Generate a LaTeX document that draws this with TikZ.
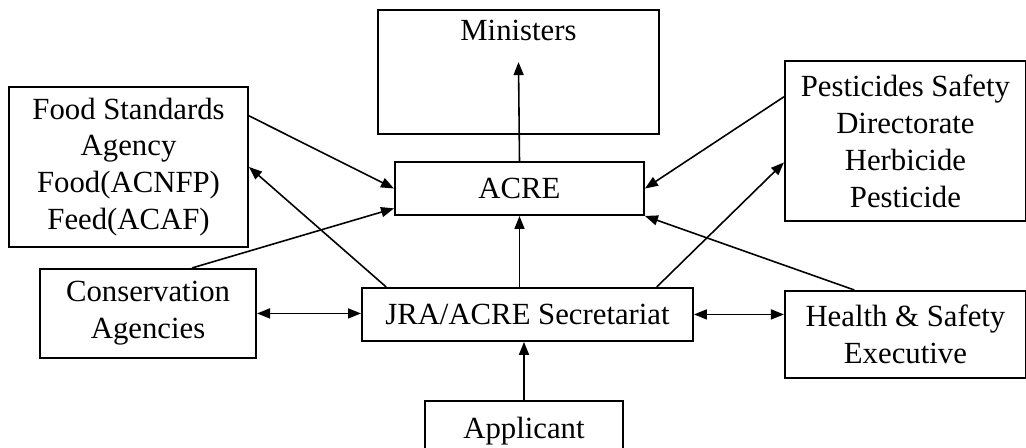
\documentclass[tikz,border=0pt]{standalone}
\usepackage{fontspec}
\setmainfont{Liberation Serif}
\usetikzlibrary{positioning,arrows.meta}
\tikzset{
  txt/.style={font=\fontsize{17.5}{21}\selectfont},
  box/.style={draw, line width=1.1pt, align=center, txt, inner sep=2pt},
  arr/.style={-{Triangle[length=0.26cm,width=0.2cm]}, line width=0.9pt},
  both/.style={{Triangle[length=0.26cm,width=0.2cm]}-{Triangle[length=0.26cm,width=0.2cm]}, line width=0.9pt}
}
\begin{document}
\begin{tikzpicture}
        \path[use as bounding box, clip] (-10.39,3.77) rectangle (10.13,-5.17);
        \node[box, minimum width=4.98cm, minimum height=1.06cm] (acre) at (0,0) {ACRE};
        \node[box, minimum width=5.62cm, minimum height=2.48cm, above=0.52cm of acre, xshift=-0.02cm] (min) {};
        \node[txt, anchor=base] (mint) at ([yshift=-0.62cm]min.north) {Ministers};
        \coordinate[below=1.06cm of min.north] (mintip);
        \node[box, minimum width=6.62cm, minimum height=1.06cm, below=1.42cm of acre, xshift=0.16cm] (jra) {JRA/ACRE Secretariat};
        \node[box, minimum width=3.96cm, minimum height=1.2cm, below=1.16cm of jra, xshift=-0.07cm] (app) {Applicant};
        \node[box, minimum width=4.78cm, minimum height=3.2cm, left=2.9cm of acre, yshift=0.43cm] (fsa) {Food Standards\\Agency\\Food(ACNFP)\\Feed(ACAF)};
        \node[box, minimum width=4.32cm, minimum height=1.78cm, left=2.08cm of jra, yshift=0.02cm] (cons) {Conservation\\Agencies};
        \node[box, minimum width=4.82cm, minimum height=3.2cm, right=2.78cm of acre, yshift=0.95cm] (psd) {Pesticides Safety\\Directorate\\Herbicide\\Pesticide};
        \node[box, minimum width=4.82cm, minimum height=1.74cm, right=1.8cm of jra, yshift=-0.4cm] (hse) {Health \& Safety\\Executive};
        \draw[arr] (acre.north) -- (mintip);
        \draw[arr] (fsa.23) -- (acre.west);
        \draw[arr] (jra.169) -- (fsa.east);
        \draw[arr] (cons.46) -- (acre.189);
        \draw[arr] (jra.north -| acre.south) -- (acre.south);
        \draw[arr] (app.north) -- (app.north |- jra.south);
        \draw[arr] (psd.160) -- (acre.east);
        \draw[arr] (jra.12) -- (psd.190);
        \draw[arr] (hse.139) -- (acre.south east);
        \draw[both] (cons.east) -- (cons.east -| jra.west);
        \draw[both] (jra.east) -- (jra.east -| hse.west);
    \end{tikzpicture}
\end{document}
